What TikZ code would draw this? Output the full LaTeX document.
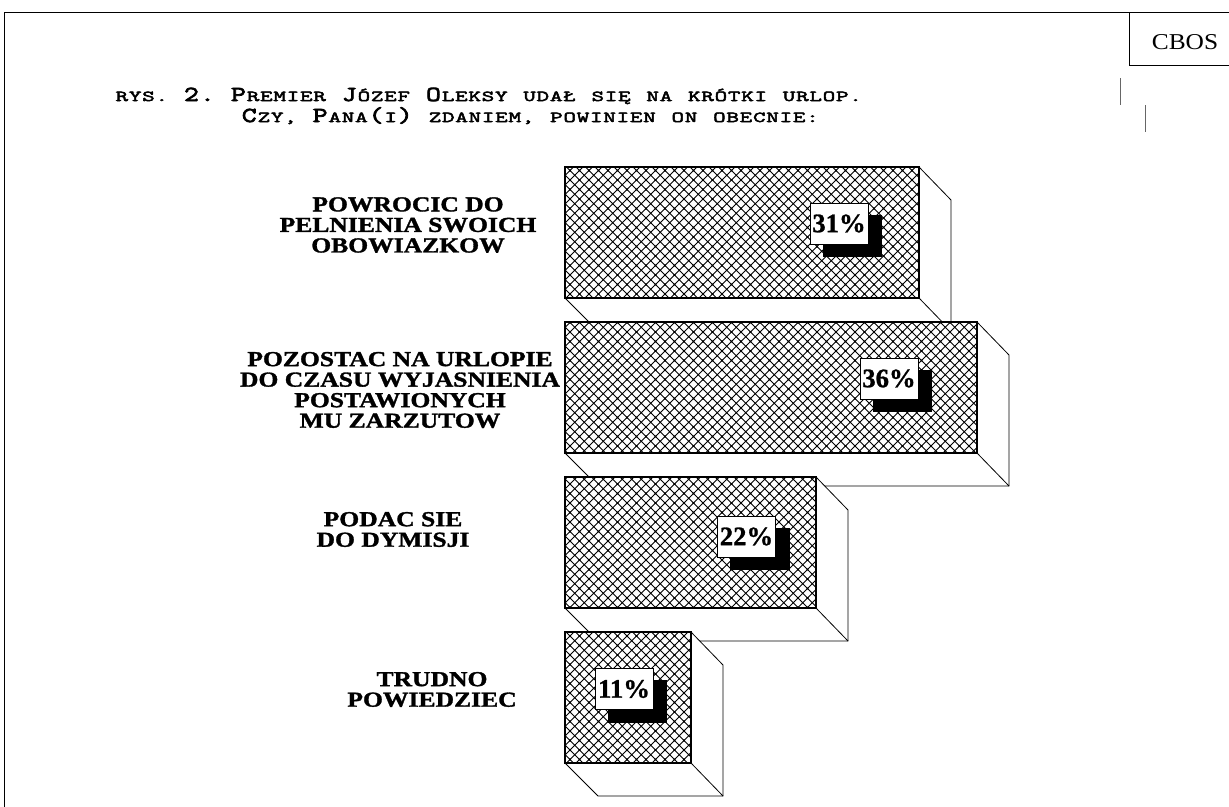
\documentclass[tikz,border=0pt]{standalone}
\usepackage{fontspec}
\usetikzlibrary{patterns,shadows}
\setmainfont{Liberation Serif}
\newfontfamily\labfont{Liberation Serif}[FakeStretch=1.2, BoldFeatures={FakeBold=1.5}]
\newfontfamily\pctfont{Liberation Serif}[BoldFeatures={FakeBold=1}]
\newfontfamily\ttlsmall{Latin Modern Mono}[FakeStretch=1.6, FakeBold=3.5]
\newfontfamily\ttlbig{Latin Modern Mono}[FakeStretch=1.35, FakeBold=3.5]
\newfontfamily\cbosfont{Liberation Serif}[FakeStretch=1.12]

\pgfdeclarepatternformonly{xhatch}{\pgfpoint{-1pt}{-1pt}}{\pgfpoint{8.2pt}{8.2pt}}{\pgfpoint{7.125pt}{7.125pt}}{%
  \pgfsetlinewidth{0.7pt}%
  \pgfpathmoveto{\pgfpoint{-0.6pt}{-0.6pt}}\pgfpathlineto{\pgfpoint{7.725pt}{7.725pt}}%
  \pgfpathmoveto{\pgfpoint{-0.6pt}{7.725pt}}\pgfpathlineto{\pgfpoint{7.725pt}{-0.6pt}}%
  \pgfusepath{stroke}}

\newlength\smw \setlength\smw{9.975pt}
\newlength\bgw \setlength\bgw{12pt}
\newlength\spw \setlength\spw{11.25pt}
\newcommand\smfont{\ttlsmall\fontsize{11.4pt}{13pt}\selectfont}
\newcommand\bgfont{\ttlbig\fontsize{16pt}{18pt}\selectfont}
\ExplSyntaxOn
\NewDocumentCommand\smc{m}{\tl_map_inline:nn{#1}{\makebox[\smw]{\smfont ##1}}}
\NewDocumentCommand\bgc{m}{\tl_map_inline:nn{#1}{\makebox[\bgw]{\bgfont ##1}}}
\ExplSyntaxOff
\newcommand\spc{\hspace*{\spw}}

\newcommand\mkbar[2]{%
  \filldraw[fill=white,draw=black,line width=0.6pt] (565,#2) -- (#1,#2) -- ({#1+32},{#2+33}) -- ({#1+32},{#2+164}) -- (598,{#2+164}) -- (565,{#2+131}) -- cycle;
  \draw[line width=0.6pt] (#1,{#2+131}) -- ({#1+32},{#2+164});
  \draw[line width=0.9pt,pattern=xhatch] (565,#2) rectangle (#1,{#2+131});
}

\tikzset{
  pct/.style={draw=black, line width=0.5pt, fill=white, minimum width=43.5pt, minimum height=31pt, inner sep=0pt,
    font=\pctfont\bfseries\fontsize{20pt}{22pt}\selectfont,
    general shadow={fill=black, shadow xshift=9.75pt, shadow yshift=-9pt, shadow scale=1.03}},
  lab/.style={align=center, inner sep=0pt, font=\labfont\bfseries\fontsize{16pt}{15.4pt}\selectfont},
  ttl/.style={inner sep=0pt, anchor=base west},
  frameline/.style={line width=0.75pt, draw=black},
  tickline/.style={line width=0.75pt, draw=black!60}
}

\begin{document}
\begin{tikzpicture}[x=0.75pt,y=-0.75pt]
\useasboundingbox (0,0) rectangle (1229,807);
% frame
\draw[frameline] (4,807) -- (4,12.5) -- (1229,12.5);
\draw[frameline] (1129,12.5) -- (1129,65) -- (1229,65);
\node[inner sep=0pt, font=\cbosfont\fontsize{17pt}{19pt}\selectfont] (cbos) at (1185,42) {CBOS};
\draw[tickline] (1120,78) -- (1120,105);
\draw[tickline] (1145,105) -- (1145,132);
% title
\node[ttl] (t1) at (115,101) {\smc{RYS.}\spc\bgc{2.}\spc\bgc{P}\smc{REMIER}\spc\bgc{J}\smc{ÓZEF}\spc\bgc{O}\smc{LEKSY}\spc\smc{UDAŁ}\spc\smc{SIĘ}\spc\smc{NA}\spc\smc{KRÓTKI}\spc\smc{URLOP.}};
\node[ttl] (t2) at (241,122) {\bgc{C}\smc{ZY,}\spc\bgc{P}\smc{ANA}\bgc{(}\smc{I}\bgc{)}\spc\smc{ZDANIEM,}\spc\smc{POWINIEN}\spc\smc{ON}\spc\smc{OBECNIE:}};
% bars
\mkbar{919}{167}
\mkbar{977}{322}
\mkbar{816}{477}
\mkbar{691}{632}
% percentages
\node[pct] (p1) at (839,223.5) {31\%};
\node[pct] (p2) at (889,378.5) {36\%};
\node[pct] (p3) at (746.5,536.5) {22\%};
\node[pct] (p4) at (624,689) {11\%};
% labels
\node[lab] (l1) at (408,225) {POWROCIC DO\\PELNIENIA SWOICH\\OBOWIAZKOW};
\node[lab] (l2) at (400,390) {POZOSTAC NA URLOPIE\\DO CZASU WYJASNIENIA\\POSTAWIONYCH\\MU ZARZUTOW};
\node[lab] (l3) at (393,529.5) {PODAC SIE\\DO DYMISJI};
\node[lab] (l4) at (432,689.5) {TRUDNO\\POWIEDZIEC};
\end{tikzpicture}
\end{document}
